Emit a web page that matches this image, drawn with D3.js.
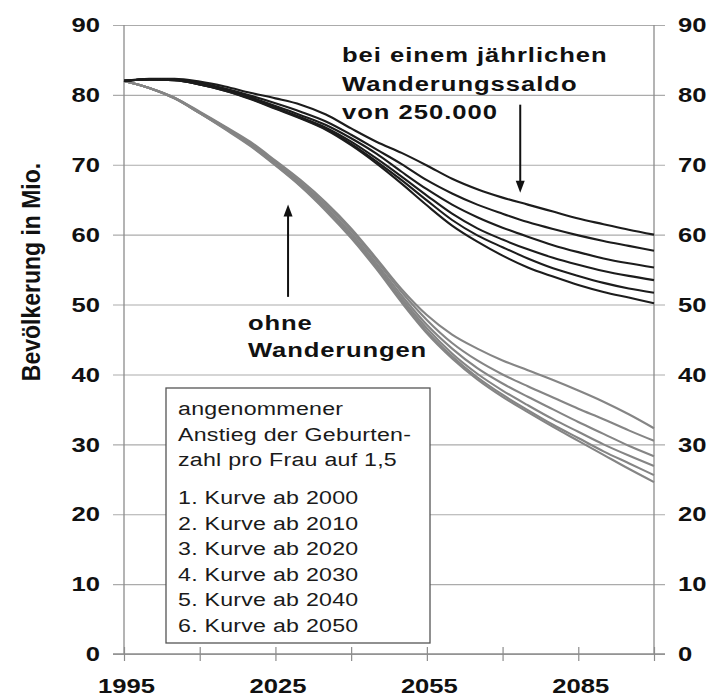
<!DOCTYPE html>
<html>
<head>
<meta charset="utf-8">
<script src="https://cdn.jsdelivr.net/npm/d3@7/dist/d3.min.js"></script>
<style>
body { margin: 0; background: #fff; }
svg { display: block; font-family: "Liberation Sans", Arial, sans-serif; }
</style>
</head>
<body>
<div id="chart"></div>
<script>
// data (Bevölkerung in Mio.)
const years = [1995, 2000, 2005, 2010, 2015, 2020, 2025, 2030, 2035, 2040, 2045,
               2050, 2055, 2060, 2065, 2070, 2075, 2080, 2085, 2090, 2095, 2100]

// bei einem jährlichen Wanderungssaldo von 250.000
const mig_2000 = [82.0, 82.3, 82.3, 81.9, 81.2, 80.3, 79.5, 78.6, 77.2, 75.2, 73.3, 71.7, 69.9, 68.0, 66.5, 65.3, 64.3, 63.3, 62.3, 61.5, 60.7, 60.0]
const mig_2010 = [82.0, 82.2, 82.2, 81.7, 80.9, 79.9, 78.8, 77.6, 76.2, 74.3, 72.2, 70.1, 67.8, 65.9, 64.3, 63.0, 61.8, 60.8, 59.9, 59.1, 58.4, 57.7]
const mig_2020 = [82.0, 82.2, 82.2, 81.6, 80.8, 79.7, 78.4, 77.1, 75.7, 73.8, 71.6, 69.0, 66.5, 64.3, 62.5, 61.0, 59.7, 58.5, 57.5, 56.6, 55.9, 55.3]
const mig_2030 = [82.0, 82.2, 82.1, 81.5, 80.7, 79.6, 78.2, 76.8, 75.3, 73.3, 70.9, 68.3, 65.6, 63.0, 60.9, 59.3, 57.9, 56.7, 55.7, 54.8, 54.1, 53.5]
const mig_2040 = [82.0, 82.2, 82.1, 81.5, 80.6, 79.5, 78.1, 76.7, 75.1, 73.0, 70.5, 67.8, 64.9, 62.1, 59.9, 58.2, 56.6, 55.2, 54.1, 53.1, 52.3, 51.7]
const mig_2050 = [82.0, 82.2, 82.1, 81.5, 80.6, 79.4, 78.0, 76.6, 75.0, 72.8, 70.2, 67.3, 64.2, 61.3, 59.0, 57.0, 55.3, 54.0, 52.8, 51.8, 51.0, 50.2]

// ohne Wanderungen
const nomig_2000 = [82.0, 81.0, 79.6, 77.6, 75.5, 73.3, 70.6, 67.8, 64.6, 60.9, 56.6, 52.2, 48.5, 45.7, 43.7, 42.0, 40.6, 39.2, 37.7, 36.1, 34.3, 32.3]
const nomig_2010 = [82.0, 81.0, 79.6, 77.5, 75.4, 73.1, 70.4, 67.5, 64.3, 60.6, 56.3, 51.8, 47.8, 44.5, 42.0, 40.0, 38.3, 36.7, 35.1, 33.6, 32.0, 30.5]
const nomig_2020 = [82.0, 81.0, 79.6, 77.5, 75.3, 73.0, 70.2, 67.3, 64.0, 60.2, 55.9, 51.3, 47.1, 43.7, 40.9, 38.7, 36.8, 35.0, 33.2, 31.5, 29.8, 28.3]
const nomig_2030 = [82.0, 81.0, 79.5, 77.4, 75.2, 72.9, 70.1, 67.1, 63.8, 59.9, 55.6, 50.9, 46.6, 43.0, 40.1, 37.7, 35.6, 33.6, 31.8, 30.0, 28.4, 26.9]
const nomig_2040 = [82.0, 81.0, 79.5, 77.4, 75.2, 72.8, 70.0, 67.0, 63.6, 59.7, 55.3, 50.6, 46.2, 42.6, 39.6, 37.1, 34.9, 32.8, 30.9, 29.0, 27.3, 25.6]
const nomig_2050 = [82.0, 81.0, 79.5, 77.4, 75.1, 72.7, 69.9, 66.9, 63.4, 59.5, 55.1, 50.3, 45.9, 42.3, 39.3, 36.8, 34.6, 32.5, 30.5, 28.5, 26.5, 24.6]

const y_ticks = [0, 10, 20, 30, 40, 50, 60, 70, 80, 90]
const x_tick_marks = [1995, 2010, 2025, 2040, 2055, 2070, 2085, 2100]
const x_tick_labels = [1995, 2025, 2055, 2085]

const y_title = 'Bevölkerung in Mio.'
const note_mig = ['bei einem jährlichen', 'Wanderungssaldo', 'von 250.000']
const note_nomig = ['ohne', 'Wanderungen']
const legend_head = ['angenommener', 'Anstieg der Geburten-', 'zahl pro Frau auf 1,5']
const legend_items = ['1. Kurve ab 2000', '2. Kurve ab 2010', '3. Kurve ab 2020',
                      '4. Kurve ab 2030', '5. Kurve ab 2040', '6. Kurve ab 2050']

// constants
const W = 711, H = 698
const sx = 1.22   // the original lettering is a bit wide
const bold = 21

const svg = d3.select('#chart').append('svg')
    .attr('width', W)
    .attr('height', H)

const x = d3.scaleLinear().domain([1995, 2100]).range([124, 654])
const y = d3.scaleLinear().domain([0, 90]).range([654, 25])

// grid (runs a little past both axes)
svg.append('g')
    .attr('transform', 'translate(665,0)')
    .call(d3.axisLeft(y).tickValues(y_ticks).tickSize(552).tickFormat(''))
    .call(g => g.select('.domain').remove())
    .call(g => g.selectAll('line').attr('stroke', '#ababab').attr('stroke-width', 1.1))

// frame
svg.append('line')
    .attr('x1', x(1995)).attr('x2', x(1995))
    .attr('y1', y(90)).attr('y2', y(0))
    .attr('stroke', '#8c8c8c').attr('stroke-width', 1.3)
svg.append('line')
    .attr('x1', x(2100)).attr('x2', x(2100))
    .attr('y1', y(90)).attr('y2', y(0))
    .attr('stroke', '#8c8c8c').attr('stroke-width', 1.3)
svg.append('line')
    .attr('x1', 113).attr('x2', 665)
    .attr('y1', y(0)).attr('y2', y(0))
    .attr('stroke', '#8c8c8c').attr('stroke-width', 1.6)

// x tick marks
svg.append('g')
    .attr('transform', `translate(0,${y(0) - 7})`)
    .call(d3.axisBottom(x).tickValues(x_tick_marks).tickSize(14).tickFormat(''))
    .call(g => g.select('.domain').remove())
    .call(g => g.selectAll('line').attr('stroke', '#8c8c8c').attr('stroke-width', 1.2))

// tick labels
function styleLabels(g, dx) {
    g.select('.domain').remove()
    g.selectAll('line').remove()
    g.selectAll('text')
        .attr('x', null)
        .attr('font-size', bold)
        .attr('font-weight', 'bold')
        .attr('fill', '#111')
        .attr('transform', `translate(${dx},0) scale(${sx},1)`)
}

svg.append('g')
    .attr('transform', 'translate(113,0)')
    .call(d3.axisLeft(y).tickValues(y_ticks).tickSize(0))
    .call(g => styleLabels(g, -13))

svg.append('g')
    .attr('transform', 'translate(665,0)')
    .call(d3.axisRight(y).tickValues(y_ticks).tickSize(0))
    .call(g => styleLabels(g, 13))

svg.append('g')
    .attr('transform', `translate(0,${y(0)})`)
    .call(d3.axisBottom(x).tickValues(x_tick_labels).tickSize(0).tickFormat(d3.format('d')))
    .call(g => {
        g.select('.domain').remove()
        g.selectAll('text')
            .attr('y', null)
            .attr('dy', null)
            .attr('font-size', bold)
            .attr('font-weight', 'bold')
            .attr('fill', '#111')
            .attr('transform', `translate(2,39) scale(${sx},1)`)
    })

// y title
svg.append('text')
    .attr('transform', `translate(40,272) rotate(-90) scale(1,1.1)`)
    .attr('text-anchor', 'middle')
    .attr('font-size', 23)
    .attr('font-weight', 'bold')
    .attr('fill', '#111')
    .text(y_title)

// curves
const line = d3.line()
    .x((d, i) => x(years[i]))
    .y(d => y(d))
    .curve(d3.curveMonotoneX)

const gray_series = [nomig_2000, nomig_2010, nomig_2020, nomig_2030, nomig_2040, nomig_2050]
const black_series = [mig_2000, mig_2010, mig_2020, mig_2030, mig_2040, mig_2050]

svg.append('g')
    .selectAll('path')
    .data(gray_series)
    .join('path')
        .attr('d', line)
        .attr('fill', 'none')
        .attr('stroke', '#858585')
        .attr('stroke-width', 2.1)

svg.append('g')
    .selectAll('path')
    .data(black_series)
    .join('path')
        .attr('d', line)
        .attr('fill', 'none')
        .attr('stroke', '#1c1c1c')
        .attr('stroke-width', 2.1)

// annotations
function arrow(yr, from, to) {
    const x0 = x(yr), y0 = y(from), y1 = y(to)
    const dir = y1 > y0 ? 1 : -1
    svg.append('line')
        .attr('x1', x0).attr('x2', x0)
        .attr('y1', y0).attr('y2', y1 - dir * 8)
        .attr('stroke', '#111').attr('stroke-width', 2)
    svg.append('path')
        .attr('d', `M${x0},${y1} L${x0 - 4.5},${y1 - dir * 12} L${x0 + 4.5},${y1 - dir * 12} Z`)
        .attr('fill', '#111')
}
arrow(2073.5, 78.6, 66.0)
arrow(2027.5, 51.1, 64.3)

svg.append('g')
    .selectAll('text')
    .data(note_mig)
    .join('text')
        .attr('transform', (d, i) => `translate(342,${62 + i * 28.5}) scale(${sx},1)`)
        .attr('font-size', bold)
        .attr('font-weight', 'bold')
        .attr('letter-spacing', 0.8)
        .attr('fill', '#111')
        .text(d => d)

svg.append('g')
    .selectAll('text')
    .data(note_nomig)
    .join('text')
        .attr('transform', (d, i) => `translate(248,${330 + i * 27}) scale(${sx},1)`)
        .attr('font-size', bold)
        .attr('font-weight', 'bold')
        .attr('letter-spacing', 0.7)
        .attr('fill', '#111')
        .text(d => d)

// legend box
svg.append('rect')
    .attr('x', 166)
    .attr('y', 388)
    .attr('width', 264)
    .attr('height', 255)
    .attr('fill', '#fff')
    .attr('stroke', '#555')
    .attr('stroke-width', 1.3)

const legend_lines = legend_head.map((t, i) => ({t: t, y: 415 + i * 25.5}))
    .concat(legend_items.map((t, i) => ({t: t, y: 504 + i * 25.5})))

svg.append('g')
    .selectAll('text')
    .data(legend_lines)
    .join('text')
        .attr('transform', d => `translate(178,${d.y}) scale(${sx},1)`)
        .attr('font-size', 19)
        .attr('letter-spacing', 0.2)
        .attr('fill', '#1a1a1a')
        .text(d => d.t)
</script>
</body>
</html>
